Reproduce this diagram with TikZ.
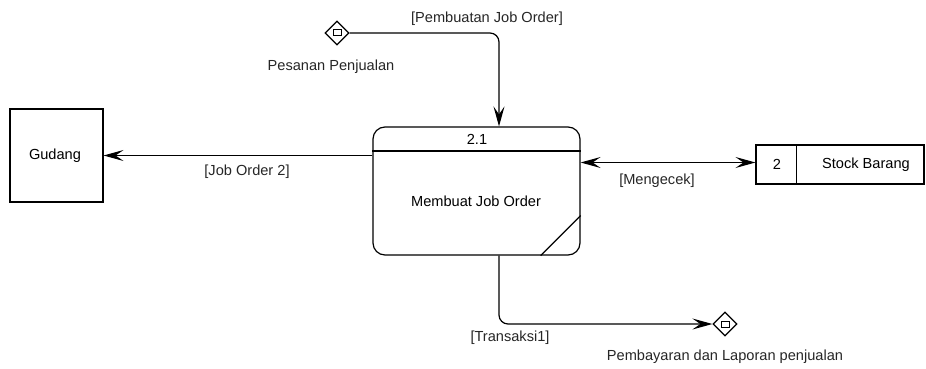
\documentclass[tikz,border=0pt]{standalone}
\usepackage{fontspec}
\setmainfont{Liberation Sans}
\usetikzlibrary{arrows.meta,shapes.geometric}
\begin{document}
\begin{tikzpicture}[x=1pt,y=-1pt,
  every node/.style={font=\fontsize{14.6}{17}\selectfont, inner sep=0pt},
  lbl/.style={text=black!85},
  entity/.style={draw, line width=1.1pt, minimum width=93pt, minimum height=93pt},
  store/.style={draw, line width=1.1pt, minimum width=168pt, minimum height=39pt},
  proc/.style={draw, line width=1.2pt, rounded corners=12pt, minimum width=207pt, minimum height=128pt},
  gate/.style={draw, diamond, line width=1.2pt, minimum width=24pt, minimum height=24pt},
  flow/.style={line width=1.2pt, rounded corners=9pt, -{Stealth[length=20pt,width=11pt,inset=8pt]}},
  biflow/.style={line width=1.2pt, {Stealth[length=20pt,width=11pt,inset=8pt]}-{Stealth[length=20pt,width=11pt,inset=8pt]}}
]
\useasboundingbox (0,0) rectangle (926,369);

% external entity
\node[entity] (gud) at (56.5,155.5) {};
\node at (55,156) {Gudang};

% process 2.1
\node[proc] (p) at (476.5,191) {};
\draw[line width=1.2pt] (p.west |- 0,151) -- (p.east |- 0,151);
\draw[line width=1.2pt] ([xshift=-40pt]p.south east) -- ([yshift=40pt]p.south east);
\node at (477,139) {2.1};
\node at (476,201) {Membuat Job Order};

% data store
\node[store] (s) at (840,164.5) {};
\draw[line width=1.1pt] ([xshift=41pt]s.north west) -- ([xshift=41pt]s.south west);
\node at (777,164.5) {2};
\node at (866,164.5) {Stock Barang};

% connectors (off-page)
\node[gate] (d1) at (337,33) {};
\draw[line width=1pt] (333,30) rectangle (341,36);
\node[lbl] at (331,67) {Pesanan Penjualan};

\node[gate] (d2) at (725,324) {};
\draw[line width=1pt] (721,321) rectangle (729,327);
\node[lbl] at (725,357) {Pembayaran dan Laporan penjualan};

% data flows
\coordinate (pin) at ([xshift=22.5pt]p.north);
\coordinate (pout) at ([xshift=22.5pt]p.south);
\draw[flow] (d1.east) -| (pin);
\node[lbl] at (487,19) {[Pembuatan Job Order]};

\draw[flow] (p.west |- gud.east) -- (gud.east);
\node[lbl] at (247,172) {[Job Order 2]};

\draw[biflow] (p.east |- 0,162.5) -- (s.west |- 0,162.5);
\node[lbl] at (657,181) {[Mengecek]};

\draw[flow] (pout) |- (d2.west);
\node[lbl] at (510,338) {[Transaksi1]};
\end{tikzpicture}
\end{document}
